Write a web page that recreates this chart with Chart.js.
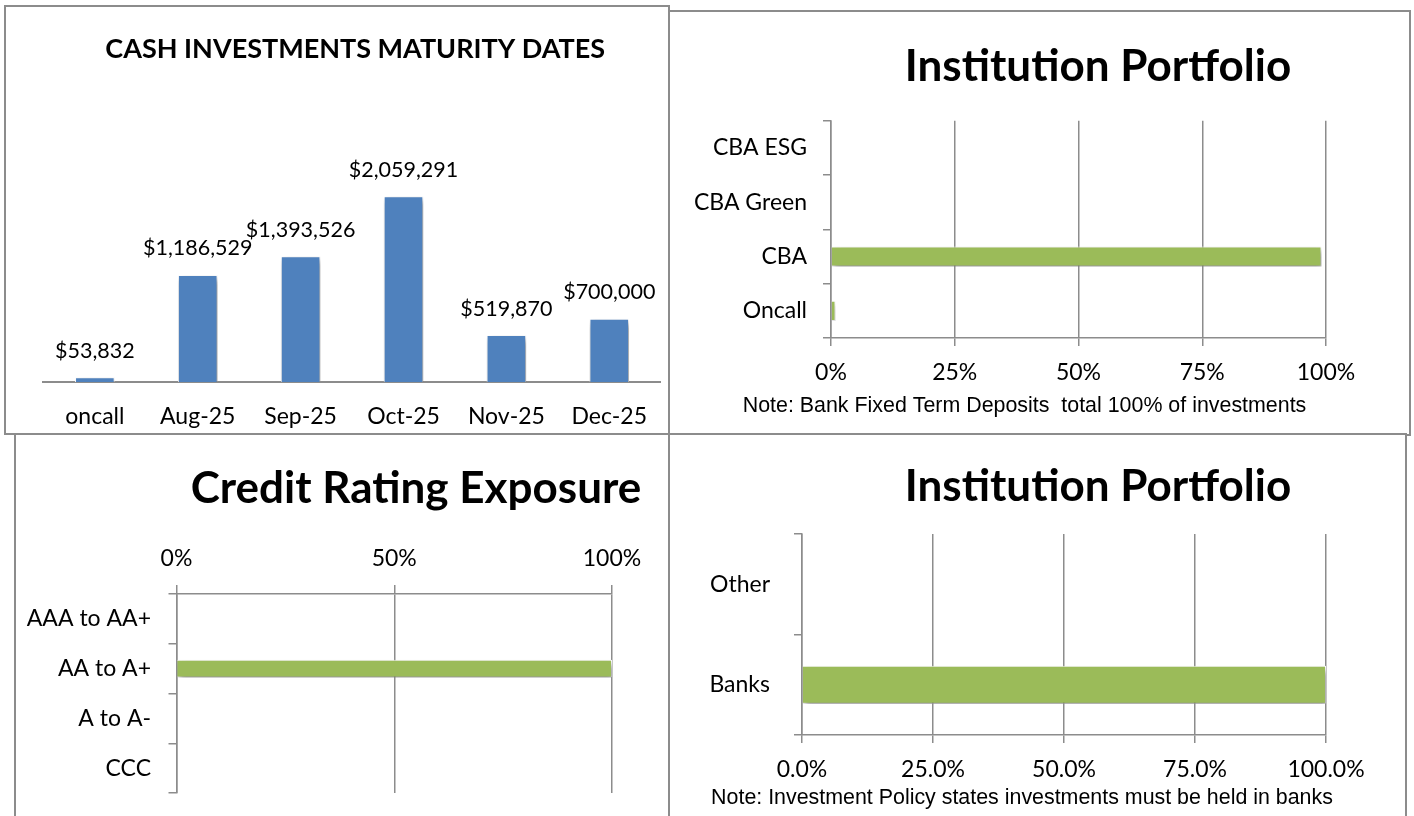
<!DOCTYPE html>
<html>
<head>
<meta charset="utf-8">
<title>Investment charts</title>
<script src="https://cdn.jsdelivr.net/npm/chart.js@4.4.1/dist/chart.umd.min.js"></script>
<style>
  html, body { margin: 0; padding: 0; background: #fff; }
  body { width: 1414px; height: 816px; position: relative; overflow: hidden; }
  .panel { position: absolute; box-sizing: border-box; border: 2px solid #8c8c8c; background: #fff; }
  canvas { position: absolute; }
</style>
</head>
<body>
<div class="panel" style="left:4px;top:5px;width:666px;height:430px"></div>
<div class="panel" style="left:668px;top:10px;width:743px;height:426px"></div>
<div class="panel" style="left:14px;top:433px;width:656px;height:400px"></div>
<div class="panel" style="left:668px;top:433px;width:739px;height:400px"></div>

<canvas id="maturity" width="662" height="426" style="left:6px;top:7px"></canvas>
<canvas id="institution" width="739" height="422" style="left:670px;top:12px"></canvas>
<canvas id="rating" width="652" height="381" style="left:16px;top:435px"></canvas>
<canvas id="sector" width="735" height="381" style="left:670px;top:435px"></canvas>

<script>
// ── Données ───────────────────────────────────────────────────────────────────
const maturityLabels = ['oncall', 'Aug-25', 'Sep-25', 'Oct-25', 'Nov-25', 'Dec-25'];
const maturityValues = [53832, 1186529, 1393526, 2059291, 519870, 700000];

const institutionLabels = ['CBA ESG', 'CBA Green', 'CBA', 'Oncall'];
const institutionShares = [0, 0, 99.09, 0.91];
const institutionTicks  = [0, 25, 50, 75, 100];

const ratingLabels = ['AAA to AA+', 'AA to A+', 'A to A-', 'CCC'];
const ratingShares = [0, 100, 0, 0];
const ratingTicks  = [0, 50, 100];

const sectorLabels = ['Other', 'Banks'];
const sectorShares = [0, 100];
const sectorTicks  = [0, 25, 50, 75, 100];

// ── Style ─────────────────────────────────────────────────────────────────────
const FONT  = 'Lato';
const NOTE  = '"Liberation Sans", Arial, sans-serif';
const GRID  = '#8c8c8c';
const BLUE  = '#4f81bd';
const GREEN = '#9bbb59';

Chart.defaults.font.family = FONT;
Chart.defaults.color = '#000';
Chart.defaults.animation = false;
Chart.defaults.responsive = false;
Chart.defaults.plugins.legend.display = false;
Chart.defaults.plugins.tooltip.enabled = false;

// ombre portée des barres (style Excel)
const barShadow = {
  id: 'barShadow',
  beforeDatasetsDraw(chart) {
    const c = chart.ctx;
    c.save();
    c.shadowColor = 'rgba(0,0,0,0.45)';
    c.shadowBlur = 6;
    c.shadowOffsetX = 2;
    c.shadowOffsetY = 4;
  },
  afterDatasetsDraw(chart) {
    chart.ctx.restore();
  },
};

// décale titre / sous-titre horizontalement
const boxShift = {
  id: 'boxShift',
  afterLayout(chart, args, opts) {
    const sub = chart.options.plugins.subtitle;
    chart.boxes.forEach((b) => {
      let dx = 0;
      if (b === chart.titleBlock) dx = opts.title || 0;
      else if (sub && sub.display && b.options && b.options.text === sub.text && !b.id) dx = opts.subtitle || 0;
      if (dx) { b.left += dx; b.right += dx; }
    });
  },
};

// étiquettes de valeur au-dessus des colonnes
const valueLabels = {
  id: 'valueLabels',
  afterDatasetsDraw(chart) {
    const c = chart.ctx;
    const meta = chart.getDatasetMeta(0);
    const data = chart.data.datasets[0].data;
    c.save();
    c.font = '21.5px ' + FONT;
    c.fillStyle = '#000';
    c.textAlign = 'center';
    c.textBaseline = 'middle';
    meta.data.forEach((bar, i) => {
      c.fillText('$' + data[i].toLocaleString('en-US'), bar.x, bar.y - 26.5);
    });
    c.restore();
  },
};

function title(text, size, top, bottom) {
  return {
    display: true,
    text,
    color: '#000',
    font: { family: FONT, size, weight: 'bold', lineHeight: 1.2 },
    padding: { top, bottom },
  };
}

function note(text, top, bottom) {
  return {
    display: true,
    position: 'bottom',
    text,
    color: '#000',
    font: { family: NOTE, size: 21.4, weight: 'normal', lineHeight: 1.2 },
    padding: { top, bottom },
  };
}

function categoryAxis(width, pad) {
  return {
    type: 'category',
    afterFit: (s) => {
      s.width = width;
      s.paddingTop = 0;
      s.paddingBottom = 0;
    },
    grid: { display: true, drawOnChartArea: false, drawTicks: true, tickLength: 8, color: GRID, lineWidth: 1.5 },
    border: { display: true, color: GRID, width: 1.5 },
    ticks: { font: { size: 23 }, color: '#000', padding: pad, autoSkip: false },
  };
}

function percentAxis(tickValues, height, pos, tickLen, pad, fmt) {
  return {
    type: 'linear',
    position: pos,
    min: 0,
    max: 100,
    afterFit: (s) => { s.height = height; },
    afterBuildTicks: (s) => { s.ticks = tickValues.map((v) => ({ value: v })); },
    grid: { color: GRID, lineWidth: 1.5, drawTicks: true, tickLength: tickLen },
    border: { display: true, color: GRID, width: 1.5 },
    ticks: { font: { size: 23 }, color: '#000', padding: pad, maxRotation: 0, callback: fmt },
  };
}

// ── 1. Maturités ──────────────────────────────────────────────────────────────
new Chart(document.getElementById('maturity'), {
  type: 'bar',
  data: {
    labels: maturityLabels,
    datasets: [{
      data: maturityValues,
      backgroundColor: BLUE,
      borderColor: '#ffffff',
      borderWidth: 1,
      barPercentage: 0.385,
      categoryPercentage: 1,
    }],
  },
  options: {
    layout: { padding: { left: 37.4, right: 1, top: 0, bottom: 0 } },
    plugins: {
      title: title('CASH INVESTMENTS MATURITY DATES', 27, 26.1, 90.9),
    },
    scales: {
      x: {
        afterFit: (s) => { s.height = 51; },
        grid: { display: true, drawOnChartArea: false, drawTicks: false, color: GRID },
        border: { display: true, color: GRID, width: 2 },
        ticks: { font: { size: 23 }, color: '#000', padding: 20.9, autoSkip: false, maxRotation: 0 },
      },
      y: { display: false, min: 0, max: 2500000 },
    },
  },
  plugins: [barShadow, valueLabels],
});

// ── 2. Portefeuille par institution ───────────────────────────────────────────
new Chart(document.getElementById('institution'), {
  type: 'bar',
  data: {
    labels: institutionLabels,
    datasets: [{
      data: institutionShares,
      backgroundColor: GREEN,
      borderColor: '#ffffff',
      borderWidth: 1,
      barPercentage: 0.37,
      categoryPercentage: 1,
    }],
  },
  options: {
    indexAxis: 'y',
    layout: { padding: { left: 0, right: 83, top: 0, bottom: 0 } },
    plugins: {
      title: title('Institution Portfolio', 44, 28.3, 27.6),
      subtitle: note('Note: Bank Fixed Term Deposits  total 100% of investments', 2.2, 15.1),
      boxShift: { title: 100, subtitle: 26.5 },
    },
    scales: {
      y: categoryAxis(161, 16),
      x: percentAxis(institutionTicks, 53, 'bottom', 8, 13.2, (v) => v + '%'),
    },
  },
  plugins: [boxShift, barShadow],
});

// ── 3. Exposition par notation ────────────────────────────────────────────────
new Chart(document.getElementById('rating'), {
  type: 'bar',
  data: {
    labels: ratingLabels,
    datasets: [{
      data: ratingShares,
      backgroundColor: GREEN,
      borderColor: '#ffffff',
      borderWidth: 1,
      barPercentage: 0.36,
      categoryPercentage: 1,
    }],
  },
  options: {
    indexAxis: 'y',
    layout: { padding: { left: 0, right: 56, top: 0, bottom: 23 } },
    plugins: {
      title: title('Credit Rating Exposure', 44, 27.8, 9.4),
      boxShift: { title: 102 },
    },
    scales: {
      y: categoryAxis(160.5, 17.5),
      x: percentAxis(ratingTicks, 69, 'top', 9, 12.9, (v) => v + '%'),
    },
  },
  plugins: [boxShift, barShadow],
});

// ── 4. Banques / autres ───────────────────────────────────────────────────────
new Chart(document.getElementById('sector'), {
  type: 'bar',
  data: {
    labels: sectorLabels,
    datasets: [{
      data: sectorShares,
      backgroundColor: GREEN,
      borderColor: '#ffffff',
      borderWidth: 1,
      barPercentage: 0.38,
      categoryPercentage: 1,
    }],
  },
  options: {
    indexAxis: 'y',
    layout: { padding: { left: 0, right: 79, top: 0, bottom: 0 } },
    plugins: {
      title: title('Institution Portfolio', 44, 25.3, 20.9),
      subtitle: note('Note: Investment Policy states investments must be held in banks', 1.9, 5.4),
      boxShift: { title: 100, subtitle: 24 },
    },
    scales: {
      y: categoryAxis(132, 24),
      x: percentAxis(sectorTicks, 48, 'bottom', 8, 13.2, (v) => v.toFixed(1) + '%'),
    },
  },
  plugins: [boxShift, barShadow],
});
</script>
</body>
</html>
